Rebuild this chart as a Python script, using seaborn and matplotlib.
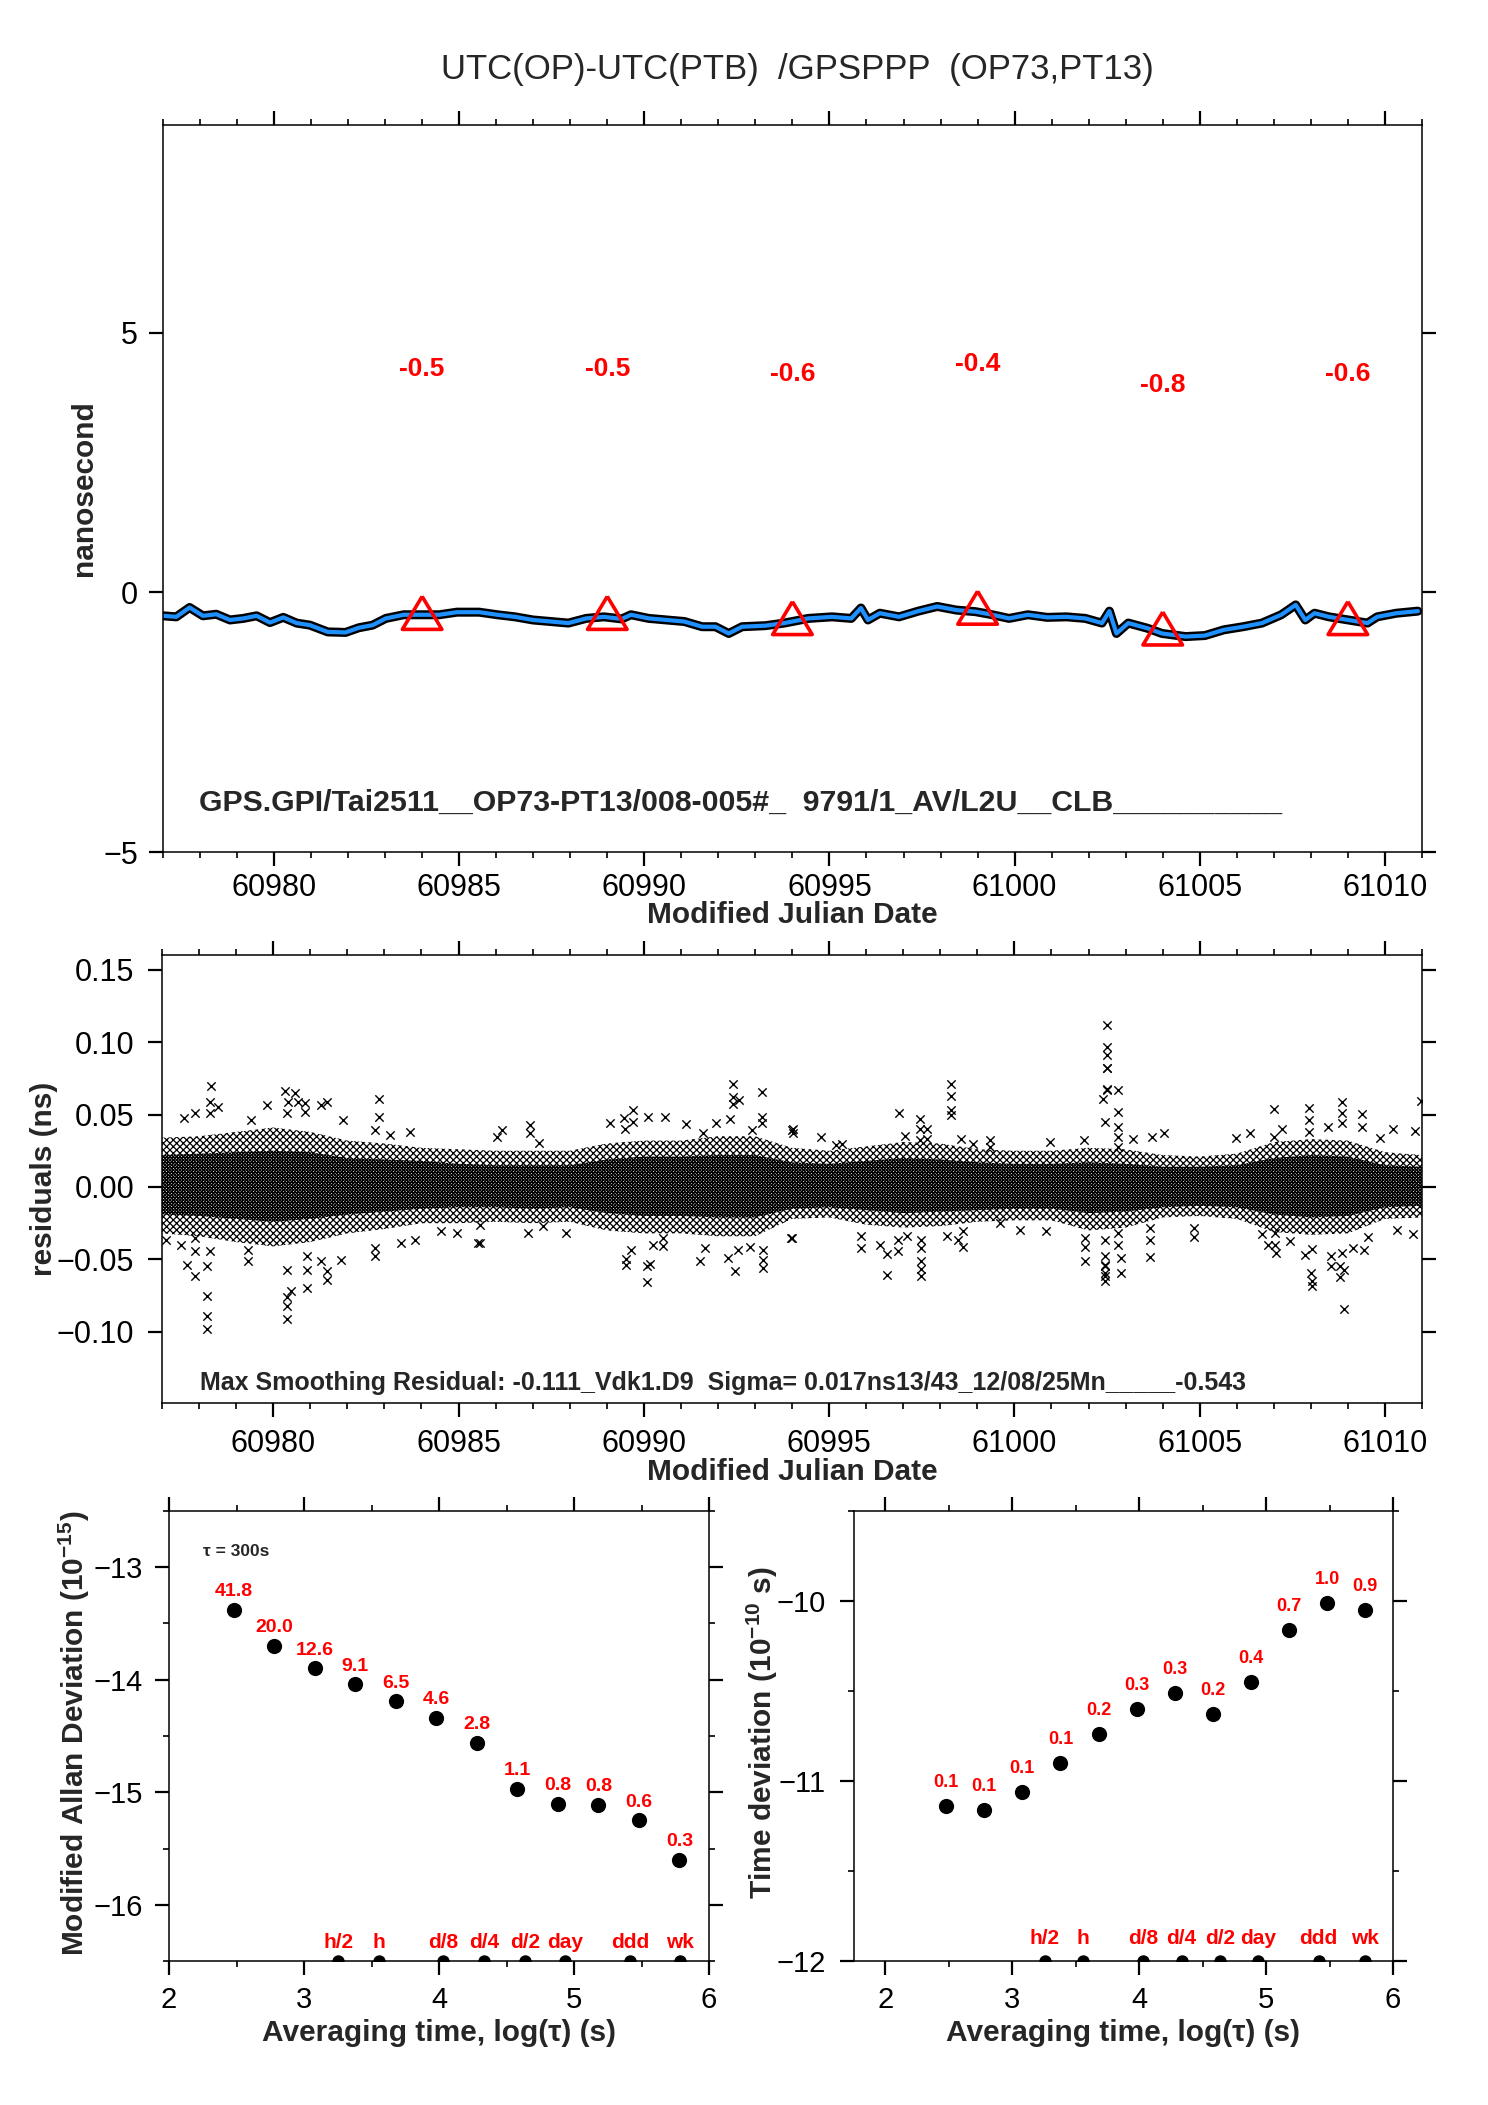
import numpy as np
import pandas as pd
import matplotlib
matplotlib.use("Agg")
import matplotlib.pyplot as plt
from matplotlib.ticker import MultipleLocator, FuncFormatter
import seaborn as sns


# ── Data ─────────────────────────────────────────────────────────────────────
# top panel: smoothed UTC(OP)-UTC(PTB) curve (ns)
smooth_mjd = [60977.00, 60977.36, 60977.72, 60978.08, 60978.44, 60978.81, 60979.17, 60979.53,
              60979.89, 60980.25, 60980.61, 60980.97, 60981.45, 60981.93, 60982.29, 60982.66,
              60983.02, 60983.50, 60983.98, 60984.46, 60984.94, 60985.54, 60986.03, 60986.51,
              60986.99, 60987.47, 60987.95, 60988.43, 60988.91, 60989.39, 60989.64, 60990.12,
              60990.60, 60991.08, 60991.56, 60991.92, 60992.28, 60992.64, 60993.27, 60993.78,
              60994.43, 60995.07, 60995.59, 60995.85, 60996.04, 60996.36, 60996.88, 60997.40,
              60997.91, 60998.43, 60998.94, 60999.33, 60999.85, 61000.36, 61000.88, 61001.40,
              61001.91, 61002.36, 61002.56, 61002.75, 61003.07, 61003.59, 61003.98, 61004.62,
              61005.14, 61005.65, 61006.17, 61006.68, 61007.20, 61007.59, 61007.85, 61008.10,
              61008.49, 61009.01, 61009.53, 61009.79, 61010.31, 61010.89]
smooth_ns = [-0.45, -0.47, -0.29, -0.45, -0.42, -0.53, -0.50, -0.45,
             -0.58, -0.48, -0.59, -0.63, -0.76, -0.77, -0.68, -0.63,
             -0.50, -0.43, -0.43, -0.43, -0.38, -0.38, -0.43, -0.47,
             -0.53, -0.56, -0.59, -0.50, -0.47, -0.51, -0.43, -0.50,
             -0.53, -0.56, -0.66, -0.66, -0.79, -0.66, -0.64, -0.59,
             -0.50, -0.47, -0.50, -0.30, -0.53, -0.40, -0.47, -0.36,
             -0.27, -0.34, -0.37, -0.42, -0.50, -0.43, -0.48, -0.47,
             -0.50, -0.59, -0.36, -0.79, -0.59, -0.69, -0.79, -0.85,
             -0.83, -0.72, -0.66, -0.59, -0.43, -0.24, -0.53, -0.40,
             -0.47, -0.53, -0.59, -0.47, -0.40, -0.36]

# daily means (triangles) and their labels
tri_mjd = [60984, 60989, 60994, 60999, 61004, 61009]
tri_ns = [-0.5, -0.5, -0.6, -0.4, -0.8, -0.6]

# middle panel: residual cloud envelope per day (outer scatter / dense core)
band_mjd = list(range(60977, 61012))
outer_hi = [0.034, 0.035, 0.038, 0.041, 0.038, 0.032, 0.030, 0.027, 0.026, 0.025, 0.025, 0.025,
            0.030, 0.032, 0.032, 0.035, 0.035, 0.027, 0.025, 0.028, 0.031, 0.030, 0.026, 0.025,
            0.025, 0.027, 0.026, 0.022, 0.021, 0.023, 0.031, 0.033, 0.032, 0.024, 0.022]
outer_lo = [-0.032, -0.034, -0.038, -0.041, -0.038, -0.032, -0.029, -0.025, -0.025, -0.024, -0.025, -0.024,
            -0.030, -0.032, -0.032, -0.034, -0.034, -0.022, -0.021, -0.026, -0.028, -0.027, -0.024, -0.023,
            -0.023, -0.030, -0.028, -0.021, -0.020, -0.022, -0.031, -0.033, -0.032, -0.022, -0.021]
core_hi = [0.022, 0.023, 0.024, 0.025, 0.024, 0.020, 0.019, 0.018, 0.016, 0.015, 0.015, 0.015,
           0.019, 0.021, 0.021, 0.022, 0.022, 0.017, 0.016, 0.018, 0.020, 0.019, 0.017, 0.016,
           0.016, 0.017, 0.016, 0.014, 0.014, 0.015, 0.020, 0.022, 0.021, 0.015, 0.014]
core_lo = [-0.019, -0.020, -0.022, -0.024, -0.022, -0.019, -0.017, -0.015, -0.014, -0.014, -0.015, -0.014,
           -0.018, -0.020, -0.020, -0.021, -0.021, -0.015, -0.014, -0.016, -0.018, -0.017, -0.016, -0.015,
           -0.015, -0.018, -0.017, -0.014, -0.013, -0.014, -0.019, -0.021, -0.020, -0.014, -0.013]

# individual residual points outside the cloud
resid_mjd = [60978.31, 60978.29, 60978.29, 60978.51, 60977.88, 60977.59, 60978.20, 60978.20, 60978.20, 60978.20,
             60977.68, 60977.88, 60977.88, 60978.29, 60979.32, 60979.32, 60979.84, 60979.39, 60980.31, 60980.58,
             60980.40, 60980.67, 60980.87, 60980.85, 60980.36, 60980.36, 60980.36, 60980.36, 60980.36, 60980.49,
             60980.90, 60980.90, 60980.90, 60981.44, 60981.30, 60981.44, 60981.44, 60981.30, 60981.84, 60981.87,
             60982.86, 60982.86, 60982.74, 60982.74, 60982.74, 60983.44, 60983.82, 60983.69, 60983.15, 60984.54,
             60984.95, 60985.53, 60977.12, 60977.50, 60977.88,
             60992.41, 60992.41, 60992.41, 60992.57, 60993.18, 60993.18, 60993.18, 60992.91, 60991.94, 60992.32,
             60991.60, 60991.13, 60990.57, 60990.12, 60989.71, 60989.71, 60989.46, 60989.49, 60989.08, 60986.16,
             60986.05, 60986.92, 60986.92, 60987.17, 60990.09, 60990.09, 60990.18, 60989.53, 60989.53, 60989.65,
             60990.52, 60990.52, 60990.25, 60991.51, 60992.46, 60992.28, 60992.55, 60992.86, 60993.22, 60993.22,
             60993.22, 60991.65, 60985.57, 60985.57, 60986.88, 60987.91, 60987.28, 60993.99, 60993.99,
             61002.49, 61002.49, 61002.40, 61002.44, 60998.29, 60998.29, 60998.29, 60998.29, 60996.88, 60997.45,
             60997.45, 60997.63, 60997.45, 60997.63, 60997.04, 60994.79, 60994.03, 60994.03, 60995.18, 60995.35,
             60998.57, 60998.89, 60999.34, 60999.34, 61000.96, 61001.87, 60996.55, 60996.55, 60996.86, 60996.86,
             60997.49, 60997.49, 60997.49, 60997.49, 60997.49, 60995.85, 60995.85, 60996.37, 60997.09, 60998.17,
             60998.60, 60998.47, 60998.60, 61001.90, 61001.90, 61001.90, 61002.44, 61002.44, 61002.44, 61002.44,
             61002.44, 60993.98, 61000.15, 61000.85, 60999.61,
             61002.51, 61002.51, 61002.51, 61002.51, 61002.51, 61002.80, 61002.80, 61002.80, 61002.80, 61002.80,
             61002.44, 61002.44, 61002.87, 61002.87, 61002.80, 61002.80, 61003.65, 61003.65, 61003.65, 61003.19,
             61003.70, 61004.04, 61004.85, 61004.85, 61005.99, 61006.37, 61007.01, 61007.01, 61007.23, 61007.03,
             61007.03, 61007.05, 61006.85, 61007.43, 61007.96, 61007.96, 61007.96, 61008.00, 61008.02, 61008.02,
             61008.02, 61007.84, 61008.85, 61008.85, 61008.85, 61009.37, 61009.37, 61008.45, 61010.22, 61010.81,
             61010.97, 61009.86, 61008.90, 61008.78, 61008.90, 61008.78, 61008.85, 61008.54, 61008.54, 61009.14,
             61009.44, 61009.55, 61010.76, 61010.31, 61006.67]
resid_ns = [0.0695, 0.0587, 0.0507, 0.0553, 0.0507, 0.0479, -0.0754, -0.0887, -0.0979, -0.0548,
            -0.0536, -0.0617, -0.0445, -0.0445, -0.0433, -0.0514, 0.0564, 0.0461, 0.0660, 0.0651,
            0.0587, 0.0587, 0.0582, 0.0518, 0.0507, -0.0575, -0.0759, -0.0823, -0.0910, -0.0715,
            -0.0571, -0.0479, -0.0697, 0.0587, 0.0564, -0.0582, -0.0640, -0.0514, -0.0502, 0.0461,
            0.0610, 0.0484, 0.0392, -0.0479, -0.0422, -0.0383, -0.0369, 0.0381, 0.0358, -0.0307,
            -0.0319, -0.0383, -0.0365, -0.0399, -0.0353,
            0.0713, 0.0621, 0.0575, 0.0603, 0.0656, 0.0484, 0.0438, 0.0392, 0.0438, 0.0472,
            0.0369, 0.0433, 0.0484, 0.0484, 0.0530, 0.0449, 0.0479, 0.0403, 0.0438, 0.0392,
            0.0342, 0.0426, 0.0369, 0.0305, -0.0658, -0.0548, -0.0530, -0.0497, -0.0536, -0.0433,
            -0.0410, -0.0353, -0.0399, -0.0514, -0.0582, -0.0491, -0.0433, -0.0415, -0.0559, -0.0502,
            -0.0433, -0.0422, -0.0383, -0.0261, -0.0319, -0.0314, -0.0266, -0.0353, 0.0392,
            0.0823, 0.0679, 0.0610, 0.0449, 0.0713, 0.0626, 0.0530, 0.0495, 0.0511, 0.0472,
            0.0403, 0.0403, 0.0323, 0.0328, 0.0351, 0.0346, 0.0403, 0.0369, 0.0289, 0.0296,
            0.0328, 0.0296, 0.0323, 0.0273, 0.0312, 0.0323, -0.0605, -0.0461, -0.0445, -0.0365,
            -0.0617, -0.0566, -0.0514, -0.0422, -0.0365, -0.0422, -0.0337, -0.0399, -0.0337, -0.0337,
            -0.0417, -0.0365, -0.0307, -0.0514, -0.0415, -0.0353, -0.0651, -0.0594, -0.0536, -0.0479,
            -0.0365, -0.0353, -0.0296, -0.0307, -0.0250,
            0.1114, 0.0965, 0.0912, 0.0823, 0.0672, 0.0672, 0.0518, 0.0415, 0.0346, 0.0277,
            -0.0548, -0.0617, -0.0594, -0.0491, -0.0399, -0.0319, -0.0484, -0.0365, -0.0284, 0.0328,
            0.0346, 0.0369, -0.0342, -0.0284, 0.0335, 0.0374, 0.0541, 0.0346, 0.0397, -0.0319,
            -0.0399, -0.0456, -0.0399, -0.0376, 0.0546, 0.0461, 0.0381, -0.0594, -0.0651, -0.0685,
            -0.0429, -0.0468, 0.0587, 0.0507, 0.0438, 0.0502, 0.0415, 0.0415, 0.0403, 0.0385,
            0.0591, 0.0335, -0.0839, -0.0548, -0.0575, -0.0624, -0.0456, -0.0543, -0.0475, -0.0422,
            -0.0433, -0.0346, -0.0326, -0.0296, -0.0323]

# bottom panels: log(tau) and log(MDEV), log(TDEV) with printed values
log_tau = [2.48, 2.78, 3.08, 3.38, 3.68, 3.98, 4.28, 4.58, 4.88, 5.18, 5.48, 5.78]
log_mdev = [-13.38, -13.70, -13.90, -14.04, -14.19, -14.34, -14.56, -14.97, -15.10, -15.11, -15.25, -15.60]
mdev_text = ['41.8', '20.0', '12.6', '9.1', '6.5', '4.6', '2.8', '1.1', '0.8', '0.8', '0.6', '0.3']
log_tdev = [-11.14, -11.16, -11.06, -10.90, -10.74, -10.60, -10.51, -10.63, -10.45, -10.16, -10.01, -10.05]
tdev_text = ['0.1', '0.1', '0.1', '0.1', '0.2', '0.3', '0.3', '0.2', '0.4', '0.7', '1.0', '0.9']

period_names = ['h/2', 'h', 'd/8', 'd/4', 'd/2', 'day', 'ddd', 'wk']
period_log = [3.255, 3.556, 4.033, 4.334, 4.635, 4.936, 5.414, 5.782]


# ── Style ────────────────────────────────────────────────────────────────────
sns.set_theme(style="ticks")
plt.rcParams['font.family'] = ['Liberation Sans', 'DejaVu Sans']
plt.rcParams['mathtext.fontset'] = 'custom'
plt.rcParams['mathtext.rm'] = 'Liberation Sans'
plt.rcParams['mathtext.bf'] = 'Liberation Sans:bold'
plt.rcParams['axes.unicode_minus'] = True
plt.rcParams['hatch.linewidth'] = 0.9
plt.rcParams['hatch.color'] = 'black'

RED, BLUE = '#ff0000', '#1e90ff'


def minus(fmt):
    def f(v, pos):
        s = fmt.format(v)
        if s.startswith('-') and float(s) == 0:
            s = s[1:]
        return s.replace('-', '\u2212')
    return FuncFormatter(f)


def frame(ax, xpad, ypad, size, major_x, minor_x, major_y, minor_y=None):
    for sp in ax.spines.values():
        sp.set_visible(True)
        sp.set_linewidth(1.1)
        sp.set_color('black')
    ax.set_facecolor('white')
    ax.xaxis.set_major_locator(MultipleLocator(major_x))
    ax.xaxis.set_minor_locator(MultipleLocator(minor_x))
    ax.yaxis.set_major_locator(MultipleLocator(major_y))
    if minor_y:
        ax.yaxis.set_minor_locator(MultipleLocator(minor_y))
    ax.tick_params(which='both', direction='out', top=True, right=True,
                   color='black', labelcolor='black')
    ax.tick_params(which='major', length=10, width=1.6, labelsize=size)
    ax.tick_params(which='minor', length=4.5, width=1.2)
    ax.tick_params(axis='x', which='major', pad=xpad)
    ax.tick_params(axis='y', which='major', pad=ypad)
    ax.grid(False)


fig = plt.figure(figsize=(14.88, 21.05), dpi=100)
ax1 = fig.add_axes([0.1095, 0.5952, 0.8461, 0.3454])
ax2 = fig.add_axes([0.1089, 0.3335, 0.8468, 0.2128])
ax3 = fig.add_axes([0.1136, 0.0684, 0.3629, 0.2138])
ax4 = fig.add_axes([0.5736, 0.0684, 0.3626, 0.2138])

fig.text(0.536, 1 - 70 / 2105, 'UTC(OP)-UTC(PTB)  /GPSPPP  (OP73,PT13)',
         ha='center', va='center', fontsize=25)

# ── Top: time series ─────────────────────────────────────────────────────────
top = pd.DataFrame({'mjd': smooth_mjd, 'ns': smooth_ns})
sns.lineplot(data=top, x='mjd', y='ns', color='black', linewidth=6.5,
             estimator=None, sort=False, ax=ax1)
sns.lineplot(data=top, x='mjd', y='ns', color=BLUE, linewidth=3.0,
             estimator=None, sort=False, ax=ax1)
tri = pd.DataFrame({'mjd': tri_mjd, 'ns': tri_ns})
tri_marker = [(0, 2), (-1.8, -1), (1.8, -1), (0, 2)]
sns.scatterplot(data=tri, x='mjd', y='ns', marker=tri_marker, s=1000,
                facecolor='none', edgecolor=RED, linewidth=2.6, ax=ax1, zorder=5)
for x, v in zip(tri_mjd, tri_ns):
    ax1.text(x, v + 4.8, f'{v:.1f}', color=RED, fontsize=19, fontweight='bold',
             ha='center', va='center')
ax1.text(0.029, 0.068, 'GPS.GPI/Tai2511__OP73-PT13/008-005#_  9791/1_AV/L2U__CLB__________',
         transform=ax1.transAxes, fontsize=21.8, fontweight='bold', ha='left', va='center')
ax1.set_xlim(60977, 61011)
ax1.set_ylim(-5, 9)
frame(ax1, 5, 8, 22, 5, 1, 5)
ax1.yaxis.set_major_formatter(minus('{:.0f}'))
ax1.set_xlabel('Modified Julian Date', fontsize=21.5, fontweight='bold')
ax1.set_ylabel('nanosecond', fontsize=21.5, fontweight='bold')
ax1.xaxis.set_label_coords(0.5, -0.087)
ax1.xaxis.label.set_va('center')
ax1.yaxis.set_label_coords(-0.063, 0.5)
ax1.yaxis.label.set_va('center')

# ── Middle: residuals ────────────────────────────────────────────────────────
ax2.fill_between(band_mjd, outer_lo, outer_hi, facecolor='none', edgecolor='black',
                 hatch='xxxxx', linewidth=0)
ax2.fill_between(band_mjd, core_lo, core_hi, facecolor='none', edgecolor='black',
                 hatch='xxxxxxxxxx', linewidth=0)
res = pd.DataFrame({'mjd': resid_mjd, 'ns': resid_ns})
sns.scatterplot(data=res, x='mjd', y='ns', marker='x', color='black', s=36,
                linewidth=1.0, ax=ax2)
ax2.text(0.030, 0.045,
         'Max Smoothing Residual: -0.111_Vdk1.D9  Sigma= 0.017ns13/43_12/08/25Mn_____-0.543',
         transform=ax2.transAxes, fontsize=18, fontweight='bold', ha='left', va='center')
ax2.set_xlim(60977, 61011)
ax2.set_ylim(-0.149, 0.16)
frame(ax2, 9, 10, 22, 5, 1, 0.05)
ax2.yaxis.set_major_formatter(minus('{:.2f}'))
ax2.set_xlabel('Modified Julian Date', fontsize=21.5, fontweight='bold')
ax2.set_ylabel('residuals (ns)', fontsize=21.5, fontweight='bold')
ax2.xaxis.set_label_coords(0.5, -0.155)
ax2.xaxis.label.set_va('center')
ax2.yaxis.set_label_coords(-0.094, 0.5)
ax2.yaxis.label.set_va('center')

# ── Bottom left: modified Allan deviation ────────────────────────────────────
mdev = pd.DataFrame({'lt': log_tau, 'v': log_mdev})
sns.scatterplot(data=mdev, x='lt', y='v', color='black', s=120, linewidth=0, ax=ax3, zorder=4)
for x, v, t in zip(log_tau, log_mdev, mdev_text):
    ax3.annotate(t, (x, v), xytext=(0, 13), textcoords='offset points', color=RED,
                 fontsize=14, fontweight='bold', ha='center', va='center')
# ── Bottom right: time deviation ─────────────────────────────────────────────
tdev = pd.DataFrame({'lt': log_tau, 'v': log_tdev})
sns.scatterplot(data=tdev, x='lt', y='v', color='black', s=120, linewidth=0, ax=ax4, zorder=4)
for x, v, t in zip(log_tau, log_tdev, tdev_text):
    ax4.annotate(t, (x, v), xytext=(0, 17), textcoords='offset points', color=RED,
                 fontsize=13, fontweight='bold', ha='center', va='center')

for ax, lo, off in [(ax3, -16.5, 13), (ax4, -12.0, 16)]:
    per = pd.DataFrame({'lt': period_log, 'v': [lo] * len(period_log)})
    sns.scatterplot(data=per, x='lt', y='v', color='black', s=80, linewidth=0, ax=ax, zorder=4)
    for x, t in zip(period_log, period_names):
        ax.annotate(t, (x, lo), xytext=(0, off), textcoords='offset points', color=RED,
                    fontsize=15, fontweight='bold', ha='center', va='center')

ax3.text(0.063, 0.909, '\u03c4 = 300s', transform=ax3.transAxes, fontsize=12.5,
         fontweight='bold', ha='left', va='center')

ax3.set_xlim(2, 6)
ax3.set_ylim(-16.5, -12.5)
frame(ax3, 8, 9, 21, 1, 0.5, 1, 0.5)
ax3.yaxis.set_major_formatter(minus('{:.0f}'))
ax3.set_xlabel('Averaging time, log(\u03c4) (s)', fontsize=21.5, fontweight='bold')
ax3.set_ylabel(r'Modified Allan Deviation (10$^{\mathbf{-15}}$)', fontsize=21.5, fontweight='bold')
ax3.xaxis.set_label_coords(0.5, -0.16)
ax3.xaxis.label.set_va('center')
ax3.yaxis.set_label_coords(-0.176, 0.505)
ax3.yaxis.label.set_va('center')

ax4.set_xlim(1.75, 6)
ax4.set_ylim(-12, -9.5)
frame(ax4, 8, 10, 21, 1, 0.5, 1, 0.5)
ax4.yaxis.set_major_formatter(minus('{:.0f}'))
ax4.set_xlabel('Averaging time, log(\u03c4) (s)', fontsize=21.5, fontweight='bold')
ax4.set_ylabel(r'Time deviation (10$^{\mathbf{-10}}$ s)', fontsize=21.5, fontweight='bold')
ax4.xaxis.set_label_coords(0.5, -0.16)
ax4.xaxis.label.set_va('center')
ax4.yaxis.set_label_coords(-0.169, 0.508)
ax4.yaxis.label.set_va('center')

fig.savefig('out.png', dpi=100, facecolor='white')
